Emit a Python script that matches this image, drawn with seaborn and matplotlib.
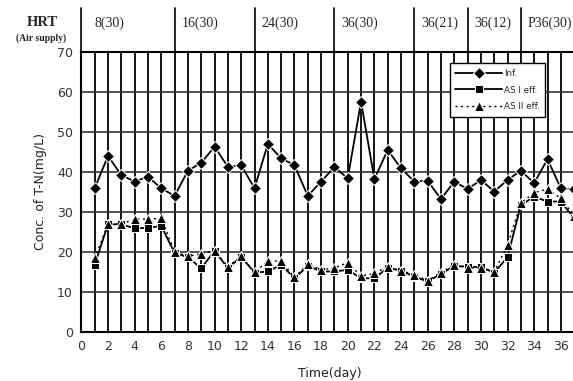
import matplotlib
matplotlib.use("Agg")
import matplotlib.pyplot as plt
import seaborn as sns

# data
days = list(range(1, 38))
inf = [35.9, 44.0, 39.2, 37.6, 38.8, 35.9, 34.0, 40.3, 42.3, 46.3, 41.3, 41.7, 35.9,
       47.0, 43.4, 41.7, 34.0, 37.6, 41.2, 38.4, 57.6, 38.2, 45.5, 40.9, 37.6, 37.8,
       33.2, 37.6, 35.7, 38.0, 35.1, 38.0, 40.3, 37.2, 43.2, 35.9, 35.7]
as1 = [16.8, 26.9, 26.9, 25.9, 26.0, 26.5, 19.7, 18.7, 15.9, 20.3, 15.9, 18.8, 14.8,
       15.1, 16.8, 13.4, 16.5, 15.1, 15.1, 15.5, 13.4, 13.4, 16.0, 15.3, 13.8, 12.6,
       14.5, 16.5, 16.3, 16.2, 14.8, 18.7, 31.7, 33.8, 32.6, 32.6, 28.4]
as2 = [18.4, 26.9, 27.0, 28.2, 28.2, 28.4, 20.0, 18.9, 19.5, 20.3, 16.3, 18.9, 15.0,
       17.6, 17.8, 13.6, 17.0, 15.5, 16.0, 17.3, 14.0, 14.6, 16.3, 15.3, 14.3, 12.8,
       14.8, 16.8, 16.0, 16.0, 15.0, 21.7, 32.2, 34.8, 35.7, 33.4, 29.0]

# HRT phases in the header band
phase_starts = [0, 7, 13, 19, 25, 29, 33]
phase_labels = ["8(30)", "16(30)", "24(30)", "36(30)", "36(21)", "36(12)", "P36(30)"]

sns.set_style("white")
plt.rcParams['font.family'] = ['DejaVu Sans']

fig = plt.figure(figsize=(5.73, 3.81), dpi=100)
ax = fig.add_axes([0.142, 0.129, 0.86, 0.7345])

sns.lineplot(x=days, y=inf, ax=ax, color="black", marker="D", markersize=6,
             linewidth=1.3, label="Inf.", zorder=5)
sns.lineplot(x=days, y=as1, ax=ax, color="black", marker="s", markersize=6,
             linewidth=1.3, label="AS I eff.", zorder=4)
sns.lineplot(x=days, y=as2, ax=ax, color="black", marker="^", markersize=7.5,
             linewidth=1.0, linestyle=(0, (1.5, 2.5)), label="AS II eff.", zorder=6)

ax.set_xlim(0, 37)
ax.set_ylim(0, 70)
ax.set_xticks(range(0, 37, 2))
ax.set_yticks(range(0, 71, 10))

# grid: every day vertically, every 10 horizontally
for d in range(1, 37):
    ax.axvline(d, color="black", linewidth=1.3, zorder=1)
for v in range(10, 70, 10):
    ax.axhline(v, color="#333333", linewidth=1.2, zorder=1)

for s in ax.spines.values():
    s.set_color("black")
    s.set_linewidth(1.5)

ax.tick_params(axis="both", length=0, labelsize=9, colors="#333333", pad=6)
ax.set_xlabel("Time(day)", fontsize=9, color="#222222", labelpad=4)
ax.xaxis.set_label_coords(0.505, -0.125)
ax.set_ylabel("Conc. of T-N(mg/L)", fontsize=9, color="#222222", labelpad=7)

# header band above the plot
top = 81
for x0, lab in zip(phase_starts, phase_labels):
    ax.plot([x0, x0], [70, top], color="black", linewidth=1.2, clip_on=False)
    ax.text(x0 + 0.5 if x0 > 0 else x0 + 1.0, 77.3, lab, ha="left", va="center",
            fontsize=10, family="Liberation Serif", clip_on=False)
ax.text(-2.95, 77.3, "HRT", ha="center", va="center", fontsize=10.5,
        family="Liberation Serif", fontweight="bold", clip_on=False)
ax.text(-3.05, 73.5, "(Air supply)", ha="center", va="center", fontsize=7,
        family="Liberation Serif", fontweight="bold", clip_on=False)

leg = ax.legend(loc="upper right", bbox_to_anchor=(0.95, 0.975), fontsize=6.3,
                frameon=True, fancybox=False, framealpha=1, edgecolor="black",
                handlelength=5.4, borderpad=0.6, labelspacing=0.9, handletextpad=0.2)
leg.get_frame().set_linewidth(1.0)
leg.set_zorder(10)

fig.savefig("out.png", dpi=100)
